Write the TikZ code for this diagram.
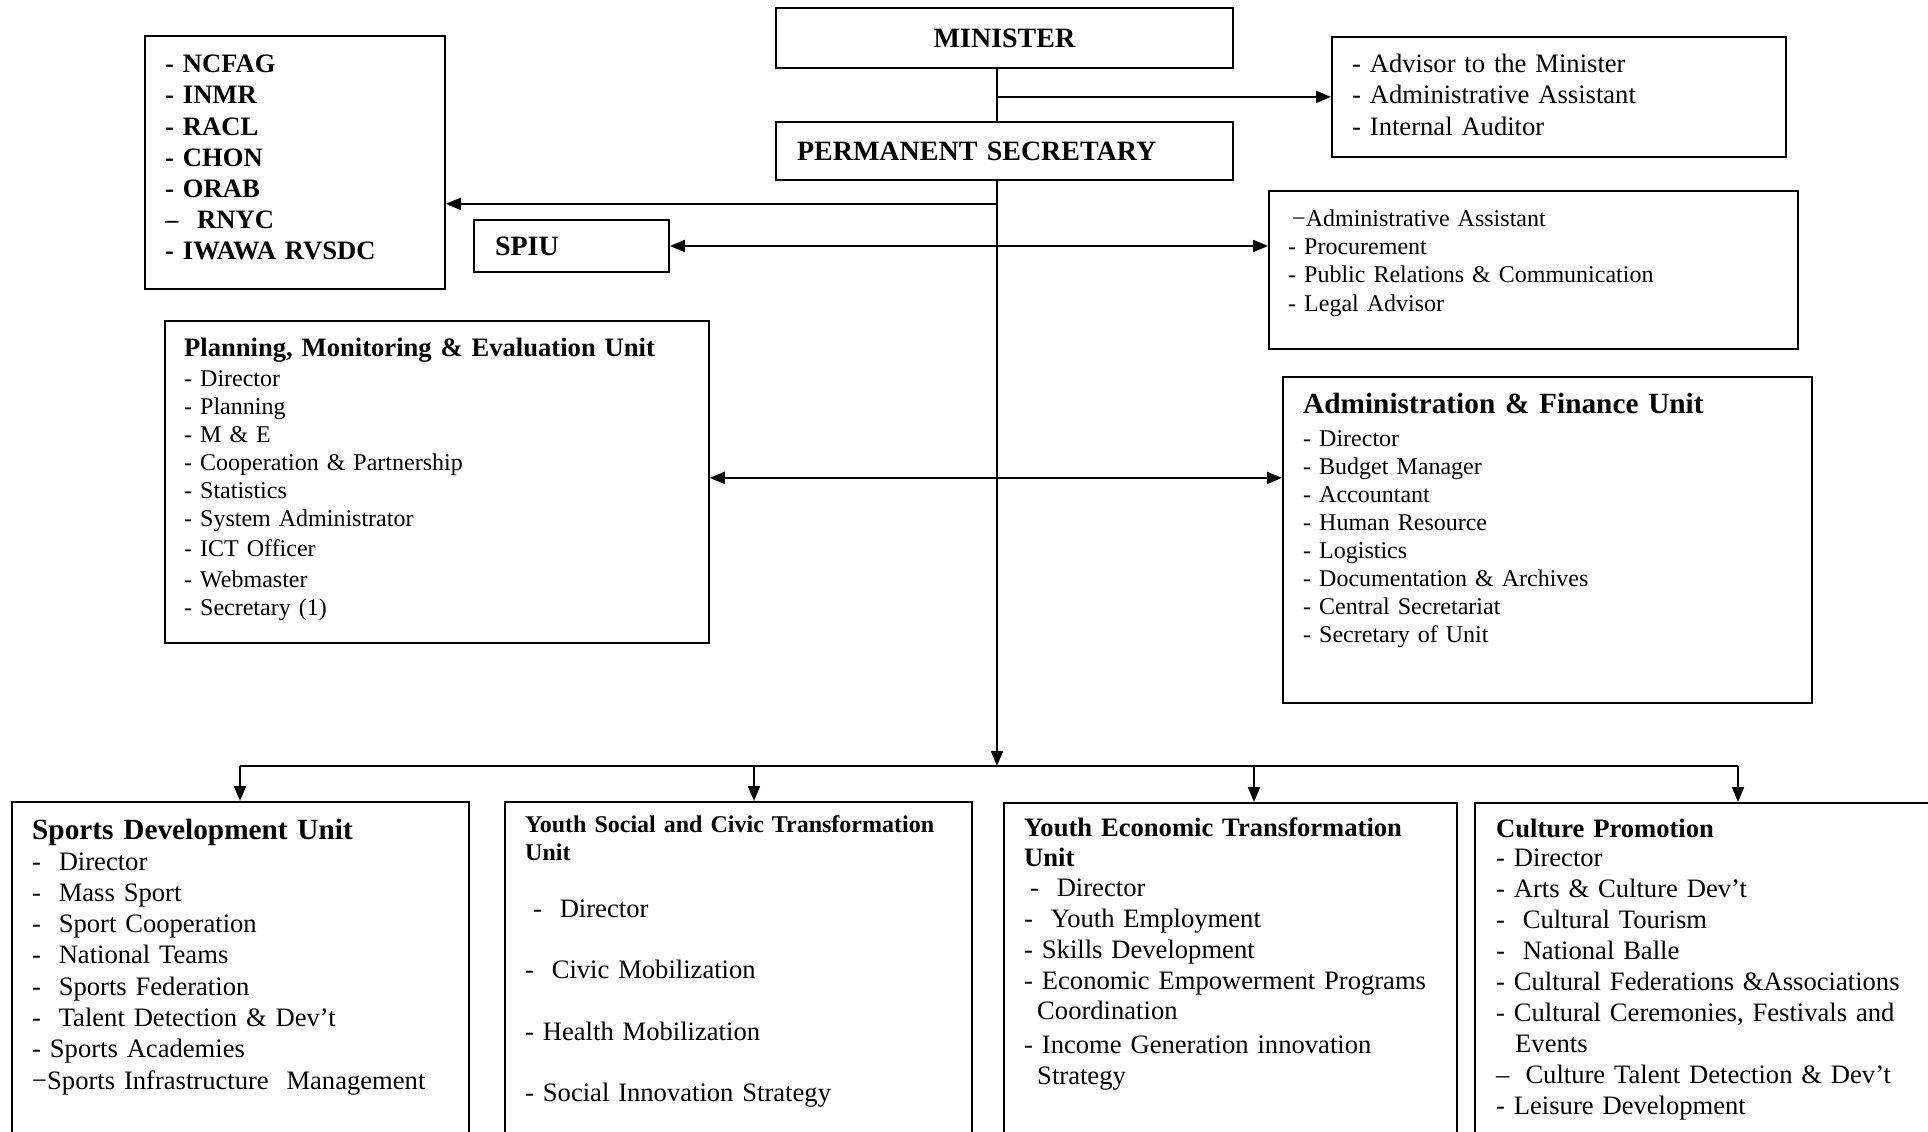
\documentclass[tikz,border=0pt]{standalone}
\usepackage{fontspec}
\setmainfont{Liberation Serif}
\usetikzlibrary{arrows.meta,positioning}

\begin{document}
\begin{tikzpicture}[%
    x=1pt, y=-1pt,
    unit/.style={
        draw,
        rectangle,
        line width=1.8pt,
        inner sep=0pt
        },
    post/.style={%
        unit,
        font=\bfseries\fontsize{28}{33}\selectfont,
        align=left,
        inner xsep=21pt},
    entry/.style={%
        anchor=base west,
        inner sep=0pt,
        align=left,
        text width=420pt,
        font=\fontsize{26.6}{#1}\selectfont},
    entry/.default=31.3,
    smallentry/.style={entry, font=\fontsize{24}{#1}\selectfont},
    smallentry/.default=28,
    heading/.style={entry, font=\bfseries\fontsize{#1}{30}\selectfont},
    heading/.default=26.6,
    wire/.style={line width=2pt},
    link/.style={wire, -{Triangle[length=15pt,width=12pt]}},
    twoway/.style={wire, {Triangle[length=15pt,width=12pt]}-{Triangle[length=15pt,width=12pt]}},
]

\useasboundingbox (0,0) rectangle (1928,1132);
\clip (0,0) rectangle (1928,1132);

% top of the chart
\node[post, minimum width=457pt, minimum height=60pt] (minister) at (1004.5,38) {MINISTER};
\node[post, text width=415pt, minimum height=58pt] (ps) at (1004.5,151) {PERMANENT SECRETARY};
\node[post, text width=153pt, minimum height=52pt] (spiu) at (571.5,246) {SPIU};

% frames
\node[unit, anchor=north west, minimum width=300pt, minimum height=253pt] (ncfag) at (144,35) {};
\node[unit, anchor=north west, minimum width=454pt, minimum height=120pt] (advisor) at (1331,36) {};
\node[unit, anchor=north west, minimum width=529pt, minimum height=158pt] (staff) at (1268,190) {};
\node[unit, anchor=north west, minimum width=544pt, minimum height=322pt] (pme) at (164,320) {};
\node[unit, anchor=north west, minimum width=529pt, minimum height=326pt] (finance) at (1282,376) {};
\node[unit, anchor=north west, minimum width=457pt, minimum height=349pt] (sports) at (11,801) {};
\node[unit, anchor=north west, minimum width=467pt, minimum height=349pt] (ysct) at (504,801) {};
\node[unit, anchor=north west, minimum width=453pt, minimum height=348pt] (yet) at (1003,802) {};
\node[unit, anchor=north west, minimum width=466pt, minimum height=348pt] (culture) at (1474,802) {};

% texts
\node[entry, text width=260pt, font=\bfseries\fontsize{26.6}{31.2}\selectfont] (ncfaglist) at (165,72.7)
    {- NCFAG\\- INMR\\- RACL\\- CHON\\- ORAB\\–\hspace{18.7pt}RNYC\\- IWAWA RVSDC};
\node[entry=31.2] (advisorlist) at (1352,72.7)
    {- Advisor to the Minister\\- Administrative Assistant\\- Internal Auditor};
\node[smallentry=28.1] (stafflist) at (1288,226.7)
    {\hspace*{4pt}−Administrative Assistant\\- Procurement\\- Public Relations \& Communication\\- Legal Advisor};

\node[heading, text width=505pt] (pmehead) at (184,356) {Planning, Monitoring \& Evaluation Unit};
\node[smallentry=28] (pmelist) at (184,386)
    {- Director\\- Planning\\- M \& E\\- Cooperation \& Partnership\\- Statistics\\- System Administrator\\[2pt]- ICT Officer\\[3pt]- Webmaster\\- Secretary (1)};

\node[heading=29.3] (financehead) at (1303,413.5) {Administration \& Finance Unit};
\node[smallentry=27.9] (financelist) at (1303,446.7)
    {- Director\\- Budget Manager\\- Accountant\\- Human Resource\\- Logistics\\- Documentation \& Archives\\- Central Secretariat\\- Secretary of Unit};

\node[heading=29.3] (sportshead) at (32,839) {Sports Development Unit};
\node[entry] (sportslist) at (32,870)
    {-\ \ Director\\-\ \ Mass Sport\\-\ \ Sport Cooperation\\-\ \ National Teams\\-\ \ Sports Federation\\-\ \ Talent Detection \& Dev’t\\- Sports Academies\\−Sports Infrastructure\ \ Management};

\node[heading, font=\bfseries\fontsize{24}{28}\selectfont] (yscthead) at (525,832.7) {Youth Social and Civic Transformation\\Unit};
\node[entry=61.5] (ysctlist) at (525,917.3)
    {\hspace*{8pt}-\ \ Director\\-\ \ Civic Mobilization\\- Health Mobilization\\- Social Innovation Strategy};

\node[heading] (yethead) at (1024,836.7) {Youth Economic Transformation\\Unit};
\node[entry=30.8] (yetlist) at (1024,896.7)
    {\hspace*{6pt}-\ \ Director\\-\ \ Youth Employment\\- Skills Development\\- Economic Empowerment Programs\\\hspace*{13pt}Coordination\\[3pt]- Income Generation innovation\\\hspace*{13pt}Strategy};

\node[heading] (culturehead) at (1496,837.3) {Culture Promotion};
\node[entry=31] (culturelist) at (1496,866.7)
    {- Director\\- Arts \& Culture Dev’t\\-\ \ Cultural Tourism\\-\ \ National Balle\\- Cultural Federations \&Associations\\- Cultural Ceremonies, Festivals and\\\hspace*{19pt}Events\\–\hspace{16pt}Culture Talent Detection \& Dev’t\\- Leisure Development};

% connectors
\coordinate (bus) at (997,766);
\coordinate (busl) at (240,766);
\coordinate (busr) at (1738,766);
\draw[wire] (minister.south -| bus) -- (ps.north -| bus);
\draw[link] (ps.south -| bus) -- (bus);
\draw[link] (bus |- advisor.west) -- (advisor.west);
\draw[link] ([yshift=-41.5pt]ncfag.east -| bus) -- ([yshift=-41.5pt]ncfag.east);
\draw[twoway] (spiu.east) -- (spiu.east -| staff.west);
\draw[twoway] ([yshift=4pt]pme.east) -- ([yshift=4pt]pme.east -| finance.west);
\draw[wire] (busl) -- (busr);
\foreach \x/\unitname in {240/sports, 754/ysct, 1254/yet, 1738/culture}{
    \coordinate (drop) at (\x,766);
    \draw[link] (drop) -- (drop |- \unitname.north);
}
\end{tikzpicture}
\end{document}
